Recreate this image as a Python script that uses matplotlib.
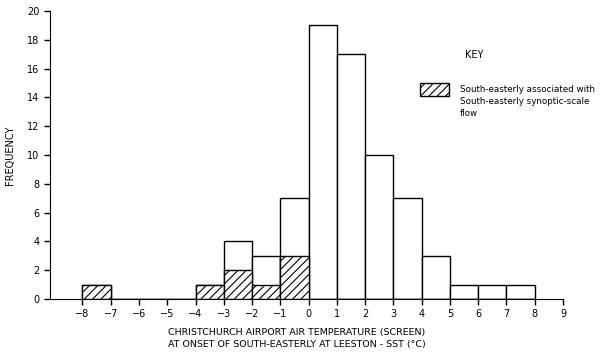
import numpy as np
import matplotlib.pyplot as plt
from matplotlib.patches import Rectangle

plt.rcParams['hatch.linewidth'] = 0.8

# bin left edges (deg C) and frequencies
bin_left = [-8, -7, -6, -5, -4, -3, -2, -1, 0, 1, 2, 3, 4, 5, 6, 7]
total = [1, 0, 0, 0, 1, 4, 3, 7, 19, 17, 10, 7, 3, 1, 1, 1]
southeasterly = [1, 0, 0, 0, 1, 2, 1, 3, 0, 0, 0, 0, 0, 0, 0, 0]

xticks = list(range(-8, 10))
yticks = list(range(0, 21, 2))

fig = plt.figure(figsize=(6.05, 3.6), dpi=100)
ax = fig.add_axes([0.0826, 0.1694, 0.848, 0.80])

ax.bar(bin_left, total, width=1, align='edge', color='white',
       edgecolor='black', linewidth=1.0)
ax.bar(bin_left, southeasterly, width=1, align='edge', color='white',
       edgecolor='black', linewidth=1.0, hatch='////')

ax.set_xlim(-9.15, 9)
ax.set_ylim(0, 20)
ax.spines['top'].set_visible(False)
ax.spines['right'].set_visible(False)
ax.spines['left'].set_bounds(0, 20)
ax.set_xticks(xticks)
ax.set_yticks(yticks)
ax.tick_params(direction='out', length=4, labelsize=7, width=1)
ax.set_ylabel('FREQUENCY', fontsize=7, labelpad=6)
ax.yaxis.set_label_coords(-0.068, 0.5)

# two-line x label
fig.text(297 / 605, 1 - 332 / 360,
         'CHRISTCHURCH AIRPORT AIR TEMPERATURE (SCREEN)',
         fontsize=6.8, ha='center', va='center')
fig.text(297 / 605, 1 - 345 / 360,
         'AT ONSET OF SOUTH-EASTERLY AT LEESTON - SST (°C)',
         fontsize=6.8, ha='center', va='center')

# key
fig.text(465 / 605, 1 - 55 / 360, 'KEY', fontsize=7, va='center')
fig.patches.append(Rectangle((420 / 605, 1 - 96 / 360), 29 / 605, 13 / 360,
                             transform=fig.transFigure, facecolor='white',
                             edgecolor='black', hatch='////', linewidth=1.0))
key_lines = ['South-easterly associated with',
             'South-easterly synoptic-scale', 'flow']
for i, line in enumerate(key_lines):
    fig.text(460 / 605, 1 - (89 + 12.5 * i) / 360, line,
             fontsize=6.3, va='center')

fig.savefig('out.png', dpi=100)
